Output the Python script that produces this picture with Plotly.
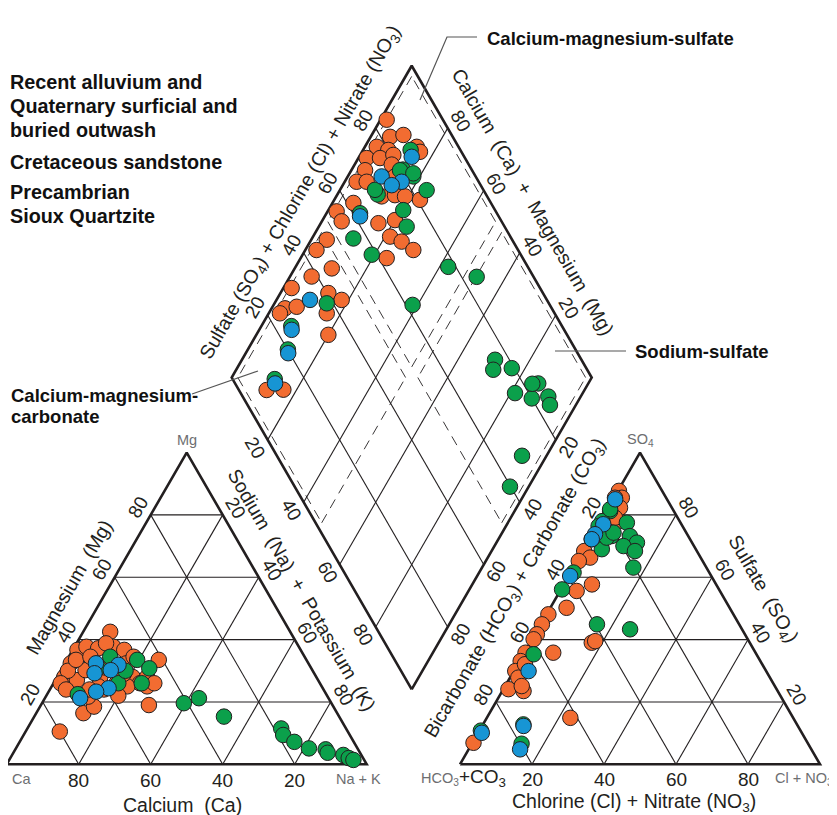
import plotly.graph_objects as go

# ---------------- DATA (percent of milliequivalents) ----------------
# Cation triangle: calcium and magnesium percent (sodium+potassium = remainder)
cat_ca_alluvium = [50, 80, 51, 41, 70.5, 66.5, 70, 66, 62, 59, 56, 51.5, 49, 67, 63, 50.5, 51, 50, 47,
                   56.5, 61, 68, 72, 66.5, 64, 53, 48.5, 54, 71.5, 59.5, 47.5, 46, 60, 57, 62, 53, 65, 58]
cat_mg_alluvium = [42.5, 10.5, 19, 33.5, 16.4, 18.5, 28, 32.4, 36.7, 37.7, 37.2, 37.7, 36.7, 27, 30.2, 32.4,
                   28, 26, 28, 26, 24, 30, 26, 21.7, 33.5, 38.8, 25, 25, 24, 34.5, 34.5, 26, 28, 31, 25, 29, 24, 22]
cat_ca_cretaceous = [41, 36, 32, 47, 45, 49.5, 54, 56, 69, 59, 52, 18, 18.5, 16.5, 13.5, 9, 9, 5, 4, 3]
cat_mg_cretaceous = [19.6, 21.2, 15.3, 33.5, 30.8, 26, 34.5, 26, 22.5, 31, 30, 11.5, 9.4, 7.2, 5.1, 4.8, 3.7, 3, 2, 1.4]
cat_ca_sioux = [53, 56, 59, 61, 59.5, 63.5, 69]
cat_mg_sioux = [31.9, 30.2, 32.4, 29.2, 24.4, 23.3, 21.2]

# Anion triangle: sulfate and chloride+nitrate percent (bicarbonate+carbonate = remainder)
an_so4_alluvium = [87.7, 85.5, 81.3, 78, 68.4, 66.3, 65.2, 57.7, 55.6, 50.2, 48.1, 44.9, 41.7, 40.1, 39, 39.5,
                   35.8, 35.8, 33.1, 29.9, 27.8, 24.1, 23.5, 14.9, 6.9, 32.1, 25.1, 85.5, 82.3, 79.1]
an_cl_alluvium = [0.3, 2.2, 2.9, 5.4, 0.3, 3, 0.4, 7.8, 4.6, 4.5, 0.5, 0.3, 0.5, 0.4, 17.1, 17.8,
                  8, 0.3, 0.3, 0.4, 2.3, 1.4, 5.9, 23.2, 0.3, 2, 4.6, 0.3, 3.3, 3.5]
an_so4_cretaceous = [77.5, 73.2, 71.1, 70, 68.4, 73.2, 69, 63.1, 56.1, 44.9, 43.3, 35.3, 81.2, 78, 72.2, 61.5,
                     10.8, 12.8, 6.6, 81.8, 76.4, 72.7, 74.3]
an_cl_cretaceous = [7.6, 10.6, 13.6, 10.4, 14.4, 5.5, 4.9, 16.6, 0.3, 15.6, 25.6, 2.8, 1.1, 0.5, 0.5, 0.8,
                    0.4, 11.2, 13.8, 0.8, 0.3, 4.4, 5.5]
an_so4_sioux = [85, 77, 73.8, 72.2, 60.4, 29.9, 10.1, 12.3, 4.8]
an_cl_sioux = [0.6, 1.3, 0.6, 0.5, 0.4, 4.1, 1, 11.5, 14.3]

# Diamond: sulfate+chloride+nitrate percent and calcium+magnesium percent
dia_anion_alluvium = [84.4, 82.6, 86.6, 77.3, 80, 72.7, 76.4, 80.6, 88.4, 88.5, 70.3, 66.1, 68.9, 78.6, 77.6,
                      70.7, 74.6, 80.8, 77.2, 55.8, 55.6, 61.8, 65.5, 70.6, 66.6, 69, 70.9, 48.5, 44, 45.3,
                      38.4, 62.2, 31, 25.9, 23.7, 29.4, 40.4, 43, 36.7, 33.7, 7.7, 12.4]
dia_cation_alluvium = [98.3, 94.6, 91.2, 96.7, 93, 97.7, 94, 90.8, 85.6, 83.9, 96.2, 96.7, 93.9, 89.7, 86.9,
                       87.4, 83.9, 76.2, 80.9, 97.5, 94.5, 94.2, 84, 79.9, 78.6, 74.6, 70, 95.7, 96.9, 89.7,
                       94, 76.1, 97.7, 96.3, 96.9, 93.3, 86.7, 81.9, 83.9, 80, 88.3, 83.7]
dia_anion_cretaceous = [80.9, 82.7, 84.2, 69.9, 74.5, 72.8, 56.1, 58.6, 77.9, 84.2, 61.9, 38.3, 76, 73.9, 79.3,
                        76.2, 84.2, 80, 84.9, 84, 68.1, 59.8, 80, 83.2, 69.9, 86.2, 62, 20.1, 11.7, 24.8, 82.5]
dia_cation_cretaceous = [85.8, 81.8, 75.9, 88.8, 79.2, 75.6, 88.5, 80.8, 57.6, 48.1, 61.4, 85.5, 29.7, 28.6, 23.7,
                         18.8, 13.9, 13.3, 9, 7.2, 6.8, 5.2, 86.5, 82.3, 90.3, 86.8, 90.7, 88.9, 87.8, 91.7, 15.5]
dia_anion_sioux = [85.4, 73.9, 78.6, 75.3, 61.5, 34.2, 24.3, 19.6, 11.1]
dia_cation_sioux = [85.4, 90.6, 84.2, 86.4, 90.2, 90.7, 91, 88.2, 87]

grid_values = [20, 40, 60, 80]
tick_labels = ["20", "40", "60", "80"]

# ---------------- GEOMETRY ----------------
H = 3 ** 0.5 / 2
PX = 3.6                 # pixels per percent unit
OX, OY = 6.7, 764.3      # page-pixel position of the Ca corner
PAGE_OFF = 8             # body margin of the html page


def px2d(px, py):
    return (px - OX) / PX, (OY - py) / PX


X0 = (460 - OX) / PX
BX, BY = (411.7 - OX) / PX, (OY - 689.3) / PX


def cat_xy(ca, mg):
    nak = 100 - ca - mg
    return nak + mg / 2, mg * H


def an_xy(so4, cl):
    return X0 + cl + so4 / 2, so4 * H


def dia_xy(a, c):
    return BX + (a - c) / 2, BY + (a + c) * H


FONT = "Liberation Sans, Arial, Helvetica, sans-serif"
DARK = "#231f20"
GRAY = "#6d6e71"
COLORS = {"alluvium": "#f26c31", "cretaceous": "#0ba04b", "sioux": "#1795d4"}
SP = "\u00a0 "

fig = go.Figure()


def add_lines(segs, width, dash=None, color=DARK):
    xs, ys = [], []
    for (x1, y1), (x2, y2) in segs:
        xs += [x1, x2, None]
        ys += [y1, y2, None]
    fig.add_trace(go.Scatter(x=xs, y=ys, mode="lines", hoverinfo="skip",
                             line=dict(color=color, width=width, dash=dash)))


# grid lines
grid = []
for v in grid_values:
    w = 100 - v
    grid.append((cat_xy(w, v), cat_xy(0, v)))
    grid.append((cat_xy(v, 0), cat_xy(v, w)))
    grid.append((cat_xy(w, 0), cat_xy(0, w)))
    grid.append((an_xy(v, 0), an_xy(v, w)))
    grid.append((an_xy(0, v), an_xy(w, v)))
    grid.append((an_xy(0, w), an_xy(w, 0)))
    grid.append((dia_xy(v, 0), dia_xy(v, 100)))
    grid.append((dia_xy(0, v), dia_xy(100, v)))
add_lines(grid, 1.1)

# dashed facies outlines
d = 1.7
dashed = []
for a0, a1, c0, c1 in [(0, 50, 50, 100), (50, 100, 50, 100), (50, 100, 0, 50)]:
    p = [dia_xy(a0 + d, c0 + d), dia_xy(a1 - d, c0 + d), dia_xy(a1 - d, c1 - d), dia_xy(a0 + d, c1 - d)]
    for i in range(4):
        dashed.append((p[i], p[(i + 1) % 4]))
add_lines(dashed, 0.9, dash="10px,7px")

# outlines
for poly in ([cat_xy(100, 0), cat_xy(0, 0), cat_xy(0, 100), cat_xy(100, 0)],
             [an_xy(0, 0), an_xy(0, 100), an_xy(100, 0), an_xy(0, 0)],
             [dia_xy(0, 0), dia_xy(100, 0), dia_xy(100, 100), dia_xy(0, 100), dia_xy(0, 0)]):
    fig.add_trace(go.Scatter(x=[p[0] for p in poly], y=[p[1] for p in poly], mode="lines",
                             line=dict(color=DARK, width=2.6), hoverinfo="skip"))

# leader lines
leaders = [
    [px2d(477, 37), px2d(447, 37), px2d(420, 100)],
    [px2d(626, 351), px2d(555, 351)],
    [px2d(192, 394), px2d(258, 371)],
]
for L in leaders:
    fig.add_trace(go.Scatter(x=[p[0] for p in L], y=[p[1] for p in L], mode="lines",
                             line=dict(color="#555555", width=1.2), hoverinfo="skip"))

# data points
series = [
    ("alluvium", cat_ca_alluvium, cat_mg_alluvium, an_so4_alluvium, an_cl_alluvium,
     dia_anion_alluvium, dia_cation_alluvium),
    ("cretaceous", cat_ca_cretaceous, cat_mg_cretaceous, an_so4_cretaceous, an_cl_cretaceous,
     dia_anion_cretaceous, dia_cation_cretaceous),
    ("sioux", cat_ca_sioux, cat_mg_sioux, an_so4_sioux, an_cl_sioux, dia_anion_sioux, dia_cation_sioux),
]
for name, ca, mg, so4, cl, da, dc in series:
    pts = [cat_xy(a, b) for a, b in zip(ca, mg)]
    pts += [an_xy(a, b) for a, b in zip(so4, cl)]
    pts += [dia_xy(a, b) for a, b in zip(da, dc)]
    fig.add_trace(go.Scatter(x=[p[0] for p in pts], y=[p[1] for p in pts], mode="markers", name=name,
                             marker=dict(size=15.5, color=COLORS[name], line=dict(color=DARK, width=1))))

# ---------------- TEXT ----------------
ann = []


def text(pos, s, size=19, angle=0, color=DARK, xanchor="center", yanchor="middle"):
    ann.append(dict(x=pos[0], y=pos[1], xref="x", yref="y", text=s, showarrow=False, textangle=angle,
                    font=dict(family=FONT, size=size, color=color), xanchor=xanchor, yanchor=yanchor))


def off(p, nx, ny, dist):
    return p[0] + nx * dist / PX, p[1] + ny * dist / PX


TK = 14.5
for v, lab in zip(grid_values, tick_labels):
    w = 100 - v
    text(off(cat_xy(v, 0), 0, -1, 16), lab)
    text(off(cat_xy(w, v), -H, 0.5, TK), lab, angle=-60)
    text(off(cat_xy(0, w), H, 0.5, TK), lab, angle=60)
    text(off(an_xy(0, v), 0, -1, 15), lab)
    text(off(an_xy(w, 0), -H, 0.5, TK), lab, angle=-60)
    text(off(an_xy(v, w), H, 0.5, TK), lab, angle=60)
    text(off(dia_xy(v, 100), -H, 0.5, TK), lab, angle=-60)
    text(off(dia_xy(100, v), H, 0.5, TK), lab, angle=60)
    text(off(dia_xy(0, w), -H, -0.5, TK), lab, angle=60)
    text(off(dia_xy(w, 0), H, -0.5, TK), lab, angle=-60)

titles = [
    ("Magnesium" + SP + "(Mg)", 69, 587, -60),
    ("Sodium" + SP + "(Na)" + SP + "+" + SP + "Potassium" + SP + "(K)", 302, 590, 60),
    ("Calcium" + SP + "(Ca)", 182, 805, 0),
    ("Bicarbonate (HCO<sub>3</sub>) + Carbonate (CO<sub>3</sub>)", 515, 588, -60),
    ("Sulfate" + SP + "(SO<sub>4</sub>)", 763, 589, 60),
    ("Chlorine (Cl) + Nitrate (NO<sub>3</sub>)", 634, 802, 0),
    ("Sulfate (SO<sub>4</sub>) + Chlorine (Cl) + Nitrate (NO<sub>3</sub>)", 300, 193, -60),
    ("Calcium" + SP + "(Ca)" + SP + "+" + SP + "Magnesium" + SP + "(Mg)", 533, 202, 60),
]
for s, px, py, ang in titles:
    text(px2d(px, py), s, size=19.5, angle=ang)

corners = [
    ("Mg", 187, 440, "center"),
    ("Ca", 10, 779, "left"),
    ("Na + K", 358, 779, "center"),
    ("SO<sub>4</sub>", 640, 440, "center"),
    ("Cl + NO<sub>3</sub>", 835, 779, "right"),
]
for s, px, py, xa in corners:
    text(px2d(px, py), s, size=14.5, color=GRAY, xanchor=xa)
text(px2d(463, 778), "<span style='color:#6d6e71;font-size:14.5px'>HCO<sub>3</sub></span>+CO<sub>3</sub>", size=19)

legend_lines = [
    ("Recent alluvium and", 81.5),
    ("Quaternary surficial and", 105.5),
    ("buried outwash", 129.5),
    ("Cretaceous sandstone", 161.5),
    ("Precambrian", 191.5),
    ("Sioux Quartzite", 215.5),
]
for s, py in legend_lines:
    text(px2d(8, py), "<b>" + s + "</b>", size=19.8, xanchor="left", color="#111111")

facies_labels = [
    ("Calcium-magnesium-sulfate", 485, 38, "left"),
    ("Sodium-sulfate", 633, 351, "left"),
    ("Calcium-magnesium-", 8.5, 395, "left"),
    ("carbonate", 8.5, 416, "left"),
]
for s, px, py, xa in facies_labels:
    text(px2d(px, py), "<b>" + s + "</b>", size=18.5, xanchor=xa, color="#111111")

# the plot area starts PAGE_OFF pixels into the page
xr = [px2d(PAGE_OFF, 0)[0], px2d(PAGE_OFF + 837, 0)[0]]
yr = [px2d(0, PAGE_OFF + 815)[1], px2d(0, PAGE_OFF)[1]]
fig.update_layout(
    width=837, height=815, margin=dict(l=0, r=0, t=0, b=0),
    paper_bgcolor="white", plot_bgcolor="white", showlegend=False,
    xaxis=dict(range=xr, visible=False, fixedrange=True),
    yaxis=dict(range=yr, visible=False, fixedrange=True),
    annotations=ann,
)
fig.write_html("out.html")
